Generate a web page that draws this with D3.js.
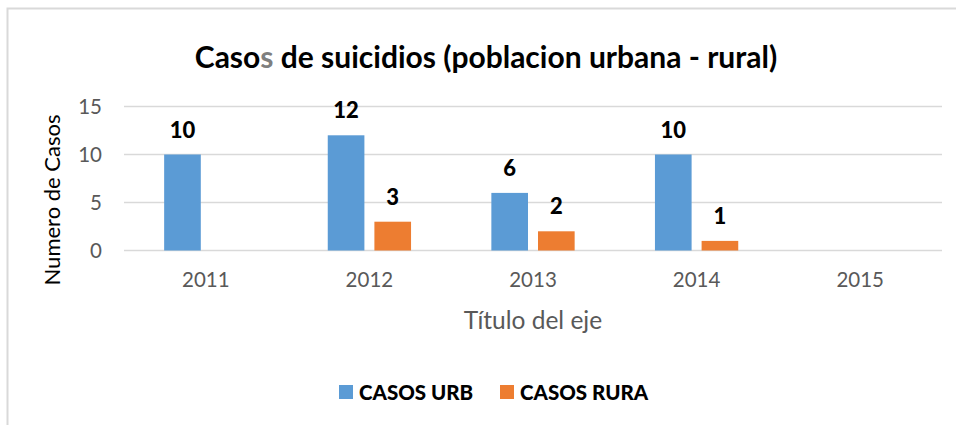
<!DOCTYPE html>
<html>
<head>
<meta charset="utf-8">
<script src="https://cdn.jsdelivr.net/npm/d3@7"></script>
<style>
  body { margin: 0; background: #fff; }
  text { font-family: Lato, "Open Sans", sans-serif; }
</style>
</head>
<body>
<svg id="chart" width="956" height="425"></svg>
<script>
const years = ["2011", "2012", "2013", "2014", "2015"];
const seriesNames = ["CASOS URB", "CASOS RURA"];
const urbano = [10, 12, 6, 10, null];
const rural = [null, 3, 2, 1, null];
const yTicks = [0, 5, 10, 15];
const colors = ["#5B9BD5", "#ED7D31"];

const svg = d3.select("#chart");
const width = 956, height = 425;
const margin = {top: 106.5, right: 14, bottom: 174.5, left: 124};

// chart frame (cut off at right/bottom like the screenshot)
svg.append("rect")
  .attr("x", 7.5).attr("y", 8.5)
  .attr("width", 1000).attr("height", 1000)
  .attr("fill", "none").attr("stroke", "#D9D9D9").attr("stroke-width", 2);

const x = d3.scaleBand()
  .domain(years)
  .range([margin.left, width - margin.right]);

const y = d3.scaleLinear()
  .domain([0, 15])
  .range([height - margin.bottom, margin.top]);

// gridlines
svg.append("g")
  .selectAll("line")
  .data(yTicks)
  .join("line")
  .attr("x1", margin.left).attr("x2", width - margin.right)
  .attr("y1", d => y(d)).attr("y2", d => y(d))
  .attr("stroke", "#D9D9D9").attr("stroke-width", 1.5);

// y axis labels
svg.append("g")
  .attr("transform", `translate(${margin.left - 22},0)`)
  .call(d3.axisLeft(y).tickValues(yTicks).tickSize(0).tickPadding(0))
  .call(g => g.select(".domain").remove())
  .call(g => g.selectAll("text")
    .attr("fill", "#595959").attr("font-size", 20.5).attr("font-family", "Lato"));

// x axis labels
svg.append("g")
  .attr("transform", `translate(0,${y(0)})`)
  .call(d3.axisBottom(x).tickSize(0).tickPadding(22))
  .call(g => g.select(".domain").remove())
  .call(g => g.selectAll("text")
    .attr("fill", "#595959").attr("font-size", 20.5).attr("font-family", "Lato"));

const series = [urbano, rural];
const barW = x.bandwidth() * 0.224;
const gap = 10;

series.forEach((vals, si) => {
  const data = years.map((yr, i) => ({yr, v: vals[i]})).filter(d => d.v != null);
  const offset = x.bandwidth() / 2 - barW - gap / 2 + si * (barW + gap);
  const g = svg.append("g");
  g.selectAll("rect")
    .data(data)
    .join("rect")
    .attr("x", d => x(d.yr) + offset)
    .attr("y", d => y(d.v))
    .attr("width", barW)
    .attr("height", d => y(0) - y(d.v))
    .attr("fill", colors[si]);
  g.selectAll("text")
    .data(data)
    .join("text")
    .attr("x", d => x(d.yr) + offset + barW / 2)
    .attr("y", d => y(d.v) - 17)
    .attr("text-anchor", "middle")
    .attr("font-size", 22)
    .attr("font-weight", "900")
    .attr("fill", "#000")
    .text(d => d.v);
});

// title
const title = svg.append("text")
  .attr("x", 486).attr("y", 68)
  .attr("text-anchor", "middle")
  .attr("font-size", 30)
  .attr("font-weight", "bold")
  .attr("fill", "#000");
title.append("tspan").text("Caso");
title.append("tspan").attr("fill", "#7F7F7F").text("s");
title.append("tspan").text(" de suicidios (poblacion urbana - rural)");

// axis titles
svg.append("text")
  .attr("transform", "translate(60,200) rotate(-90)")
  .attr("text-anchor", "middle")
  .attr("font-size", 22)
  .attr("fill", "#000")
  .text("Numero de Casos");

svg.append("text")
  .attr("x", 533).attr("y", 329)
  .attr("text-anchor", "middle")
  .attr("font-size", 24.5)
  .attr("fill", "#595959")
  .text("Título del eje");

// legend
const legendX = [339, 500];
const legend = svg.append("g");
seriesNames.forEach((name, i) => {
  legend.append("rect")
    .attr("x", legendX[i]).attr("y", 385)
    .attr("width", 14).attr("height", 14)
    .attr("fill", colors[i]);
  legend.append("text")
    .attr("x", legendX[i] + 20).attr("y", 399.5)
    .attr("font-size", 20.5)
    .attr("font-weight", "900")
    .attr("fill", "#000")
    .text(name);
});
</script>
</body>
</html>
